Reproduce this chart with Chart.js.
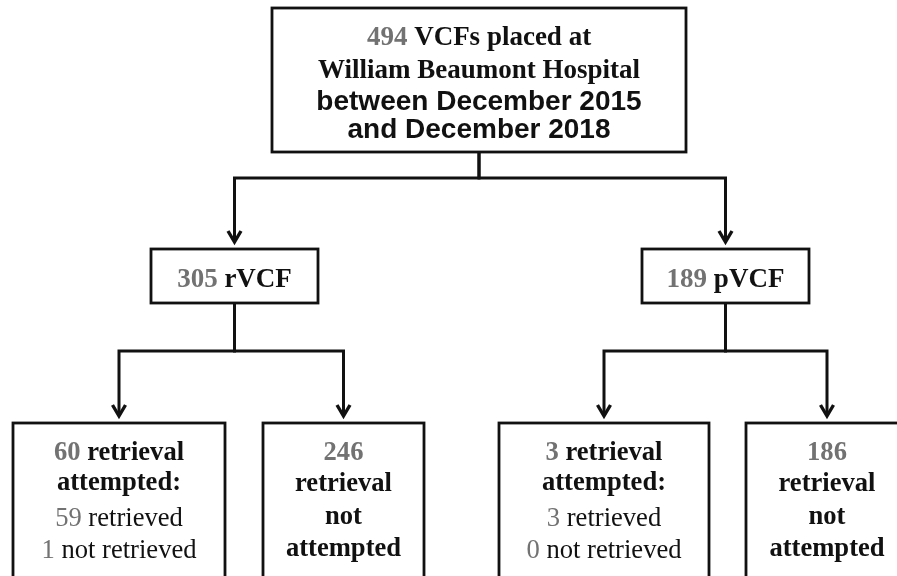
<!DOCTYPE html>
<html>
<head>
<meta charset="utf-8">
<script src="https://cdn.jsdelivr.net/npm/chart.js@4/dist/chart.umd.min.js"></script>
<style>
	html, body { margin: 0; padding: 0; background: #fff; }
	#chart { display: block; }
</style>
</head>
<body>
<canvas id="chart" width="897" height="576"></canvas>
<script>
// Flow data: one entry per box
const node_ids = ['all', 'rVCF', 'pVCF', 'r_attempted', 'r_not_attempted', 'p_attempted', 'p_not_attempted'];
const node_counts = [494, 305, 189, 60, 246, 3, 186];
const node_parents = [-1, 0, 0, 1, 1, 2, 2];
const retrieved_counts = [null, null, null, 59, null, 3, null];
const not_retrieved_counts = [null, null, null, 1, null, 0, null];

const top_labels = ['VCFs placed at', 'William Beaumont Hospital', 'between December 2015', 'and December 2018'];
const group_labels = ['rVCF', 'pVCF'];
const attempted_labels = ['retrieval', 'attempted:', 'retrieved', 'not retrieved'];
const not_attempted_labels = ['retrieval', 'not', 'attempted'];

// Layout, in the chart's own x/y units (left, top, right, bottom)
const layout = {
	boxes: [
		[272, 8, 686, 152],
		[151, 249, 318, 303],
		[642, 249, 809, 303],
		[13, 423, 225, 600],
		[263, 423, 424, 600],
		[499, 423, 709, 600],
		[746, 423, 908, 600]
	],
	bar_y: [null, 178, 178, 351, 351, 351, 351],
	baselines: [
		[45, 78, 110, 138],
		[287],
		[287],
		[460, 490, 526, 558],
		[460, 491, 524, 556],
		[460, 490, 526, 558],
		[460, 491, 524, 556]
	],
	arrow_gap: 7
};

const fonts = {
	num: {font: 'bold 26.6px "Liberation Serif"', color: '#727272'},
	bold: {font: 'bold 26.6px "Liberation Serif"', color: '#111'},
	num_big: {font: 'bold 27px "Liberation Serif"', color: '#727272'},
	bold_big: {font: 'bold 27px "Liberation Serif"', color: '#111'},
	sans: {font: 'bold 28px "Liberation Sans"', color: '#111'},
	num_reg: {font: '26.6px "Liberation Serif"', color: '#727272'},
	reg: {font: '26.6px "Liberation Serif"', color: '#111'}
};

// Build text lines (runs of [text, style]) for every node
function nodeLines (i) {
	if (i == 0) {
		return [
			[[`${node_counts[0]}`, 'num_big'], [` ${top_labels[0]}`, 'bold_big']],
			[[top_labels[1], 'bold_big']],
			[[top_labels[2], 'sans']],
			[[top_labels[3], 'sans']]
		];
	}
	if (node_parents[i] == 0) {
		return [[[`${node_counts[i]}`, 'num_big'], [` ${group_labels[i - 1]}`, 'bold_big']]];
	}
	if (retrieved_counts[i] != null) {
		return [
			[[`${node_counts[i]}`, 'num'], [` ${attempted_labels[0]}`, 'bold']],
			[[attempted_labels[1], 'bold']],
			[[`${retrieved_counts[i]}`, 'num_reg'], [` ${attempted_labels[2]}`, 'reg']],
			[[`${not_retrieved_counts[i]}`, 'num_reg'], [` ${attempted_labels[3]}`, 'reg']]
		];
	}
	return [
		[[`${node_counts[i]}`, 'num']],
		...not_attempted_labels.map (t => [[t, 'bold']])
	];
}

function drawRuns (c, runs, cx, y) {
	let total = 0;
	runs.forEach (r => { c.font = fonts[r[1]].font; total += c.measureText (r[0]).width; });
	let x = cx - total / 2;
	runs.forEach (r => {
		c.font = fonts[r[1]].font;
		c.fillStyle = fonts[r[1]].color;
		c.fillText (r[0], x, y);
		x += c.measureText (r[0]).width;
	});
}

const flowPlugin = {
	id: 'flow',
	afterDraw (chart) {
		const c = chart.ctx;
		const sx = v => chart.scales.x.getPixelForValue (v);
		const sy = v => chart.scales.y.getPixelForValue (v);
		c.save ();
		c.strokeStyle = '#111';
		c.lineCap = 'butt';
		c.textBaseline = 'alphabetic';

		// Connectors with arrows
		c.lineWidth = 3;
		node_ids.forEach ((id, i) => {
			const p = node_parents[i];
			if (p < 0) return;
			const pb = layout.boxes[p];
			const b = layout.boxes[i];
			const px = (pb[0] + pb[2]) / 2;
			const cx = (b[0] + b[2]) / 2;
			const by = layout.bar_y[i];
			const tip = b[1] - layout.arrow_gap;
			c.beginPath ();
			c.moveTo (sx (px), sy (pb[3]));
			c.lineTo (sx (px), sy (by));
			c.lineTo (sx (cx), sy (by));
			c.lineTo (sx (cx), sy (tip));
			c.stroke ();
			c.lineWidth = 3.4;
			c.beginPath ();
			c.moveTo (sx (cx - 6.5), sy (tip - 11));
			c.lineTo (sx (cx), sy (tip));
			c.lineTo (sx (cx + 6.5), sy (tip - 11));
			c.stroke ();
			c.lineWidth = 3;
		});

		// Boxes and text
		c.lineWidth = 2.8;
		node_ids.forEach ((id, i) => {
			const b = layout.boxes[i];
			c.fillStyle = '#fff';
			c.fillRect (sx (b[0]), sy (b[1]), sx (b[2]) - sx (b[0]), sy (b[3]) - sy (b[1]));
			c.strokeRect (sx (b[0]), sy (b[1]), sx (b[2]) - sx (b[0]), sy (b[3]) - sy (b[1]));
			const cx = sx ((b[0] + b[2]) / 2);
			nodeLines (i).forEach ((runs, k) => drawRuns (c, runs, cx, sy (layout.baselines[i][k])));
		});
		c.restore ();
	}
};

const chart = new Chart (document.getElementById ('chart'), {
	type: 'scatter',
	data: {labels: node_ids, datasets: [{data: [], pointRadius: 0}]},
	options: {
		responsive: false,
		animation: false,
		layout: {padding: 0},
		plugins: {legend: {display: false}, tooltip: {enabled: false}},
		scales: {
			x: {type: 'linear', min: 0, max: 897, display: false},
			y: {type: 'linear', min: 0, max: 576, reverse: true, display: false}
		}
	},
	plugins: [flowPlugin]
});
</script>
</body>
</html>
